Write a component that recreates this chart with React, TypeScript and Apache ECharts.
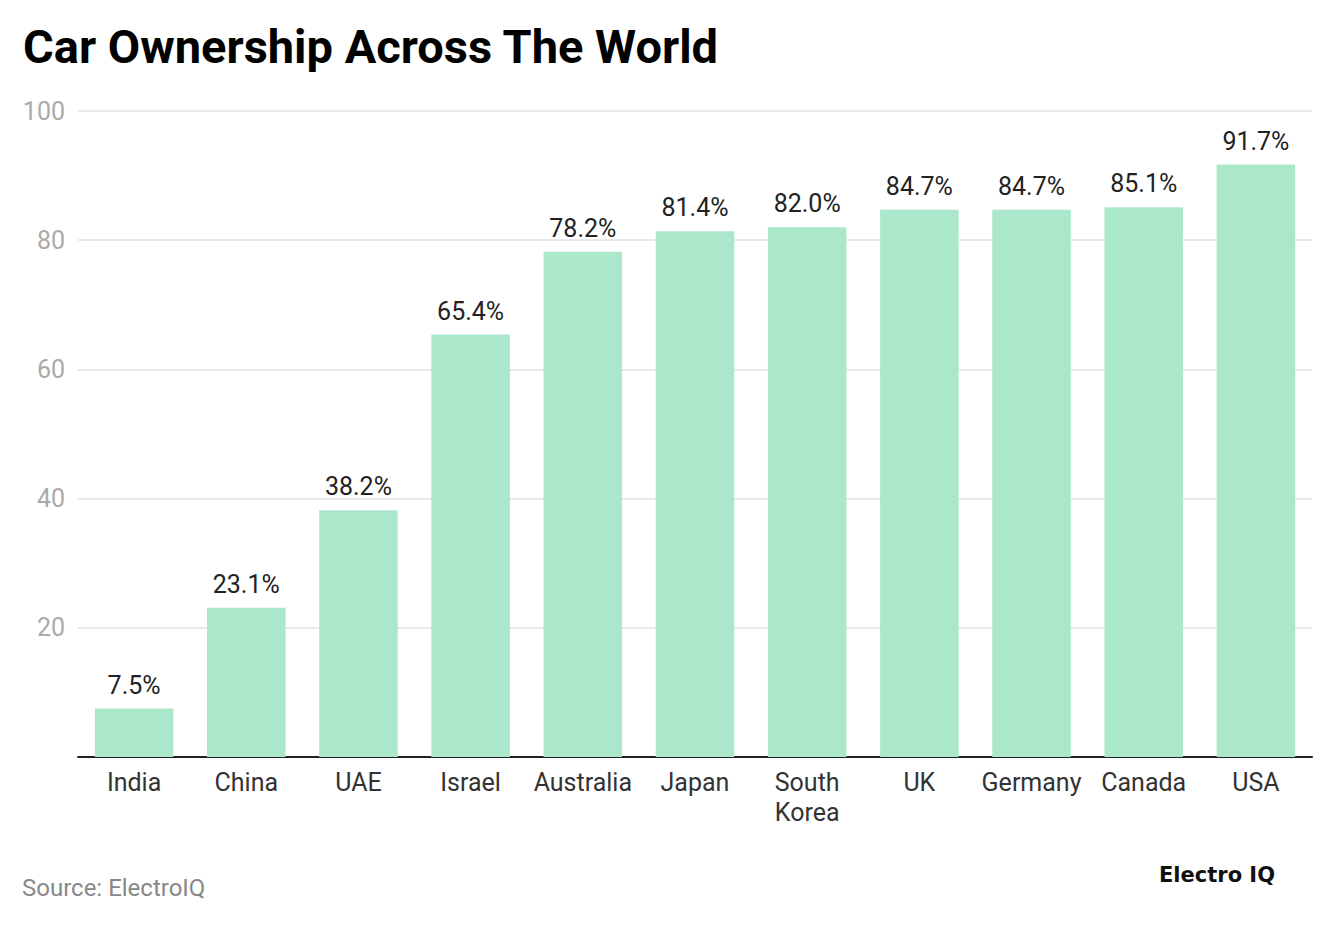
import React, { useEffect, useRef } from "react";
import * as echarts from "echarts";

const countries = ["India", "China", "UAE", "Israel", "Australia", "Japan", "South\nKorea", "UK", "Germany", "Canada", "USA"];
const ownership = [7.5, 23.1, 38.2, 65.4, 78.2, 81.4, 82.0, 84.7, 84.7, 85.1, 91.7];

const App = () => {
  const ref = useRef<HTMLDivElement>(null);

  useEffect(() => {
    document.body.style.margin = "0";
    const chart = echarts.init(ref.current, null, { renderer: "svg" });
    chart.setOption({
      animation: false,
      backgroundColor: "#fff",
      textStyle: { fontFamily: "Roboto" },
      title: {
        text: "Car Ownership Across The World",
        left: 18,
        top: 18,
        textStyle: { fontSize: 47, fontWeight: "bold", color: "#000", fontFamily: "Roboto" }
      },
      grid: { left: 78, right: 19, top: 111, bottom: 168 },
      xAxis: {
        type: "category",
        data: countries,
        axisTick: { show: false },
        axisLine: { lineStyle: { color: "#222", width: 2 } },
        axisLabel: { fontSize: 25, color: "#333", margin: 10, lineHeight: 30, interval: 0 }
      },
      yAxis: {
        type: "value",
        min: 0,
        max: 100,
        interval: 20,
        axisLabel: { fontSize: 25, color: "#aaa", margin: 13, showMinLabel: false },
        splitLine: { lineStyle: { color: "#e2e2e2", width: 1.5 } },
        axisLine: { show: false },
        axisTick: { show: false }
      },
      series: [
        {
          type: "bar",
          data: ownership,
          barWidth: "70%",
          itemStyle: { color: "#abe8cb" },
          label: {
            show: true,
            position: "top",
            distance: 11,
            fontSize: 25,
            color: "#222",
            formatter: (p: any) => p.value.toFixed(1) + "%"
          }
        }
      ],
      graphic: [
        {
          type: "text",
          left: 22,
          top: 876,
          style: { text: "Source: ElectroIQ", fontSize: 24, fill: "#888", fontFamily: "Roboto" }
        },
        {
          type: "text",
          left: 1159,
          top: 864,
          style: { text: "Electro IQ", fontSize: 21, fontWeight: 900, fill: "#111", fontFamily: "DejaVu Sans" }
        }
      ]
    });
    return () => chart.dispose();
  }, []);

  return <div ref={ref} style={{ width: 1331, height: 925 }} />;
};

export default App;
